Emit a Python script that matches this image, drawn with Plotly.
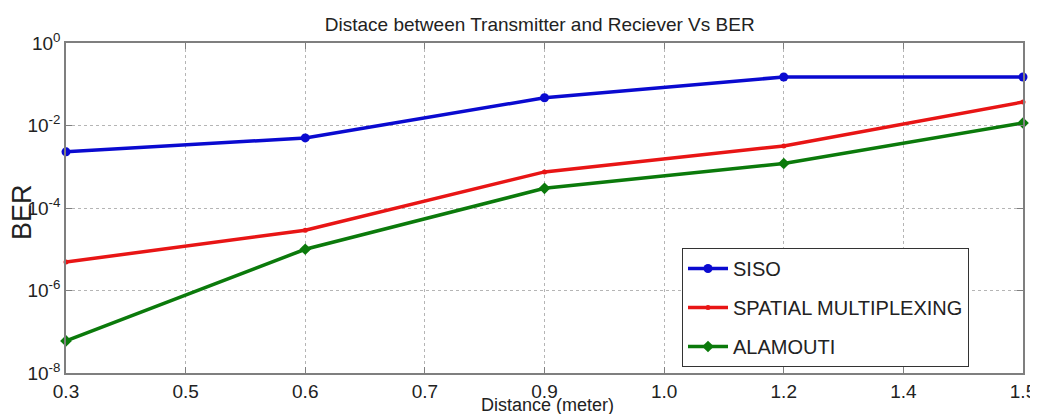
import plotly.graph_objects as go

# ---- data ----
tick_labels = ["0.3", "0.5", "0.6", "0.7", "0.9", "1.0", "1.2", "1.4", "1.5"]
distances = ["0.3", "0.6", "0.9", "1.2", "1.5"]
ber_siso = [2.3e-3, 5.0e-3, 4.7e-2, 1.5e-1, 1.5e-1]
ber_spatial = [4.9e-6, 2.9e-5, 7.5e-4, 3.2e-3, 3.7e-2]
ber_alamouti = [6.0e-8, 1.0e-5, 3.0e-4, 1.2e-3, 1.15e-2]
ytick_vals = [1e-8, 1e-6, 1e-4, 1e-2, 1e0]
ytick_text = ["10<sup>-8</sup>", "10<sup>-6</sup>", "10<sup>-4</sup>", "10<sup>-2</sup>", "10<sup>0</sup>"]

# x positions: ticks are evenly spaced, labels are non-uniform
xpos = [tick_labels.index(d) for d in distances]
tick_pos = list(range(len(tick_labels)))

FONT = "Liberation Sans, Arial, sans-serif"

# the page body adds an 8px offset; figure is sized to compensate
W, H = 1030, 406

fig = go.Figure()
series = [
    ("SISO", ber_siso, "#0a0ad0", "circle", 9),
    ("SPATIAL MULTIPLEXING", ber_spatial, "#e81515", "circle", 5),
    ("ALAMOUTI", ber_alamouti, "#0b7a0b", "diamond", 9),
]
for i, (name, vals, col, sym, ms) in enumerate(series):
    fig.add_trace(go.Scatter(
        x=xpos, y=vals, name=name, mode="lines+markers",
        line=dict(color=col, width=3.5),
        marker=dict(color=col, symbol=sym, size=ms),
        legendgroup=f"g{i}",
        cliponaxis=False,
    ))

axis_common = dict(
    showline=True, linecolor="#7f7f7f", linewidth=1.5, mirror="ticks",
    ticks="inside", ticklen=6, tickcolor="#7f7f7f",
    showgrid=True, gridcolor="#b5b5b5", griddash="dot", gridwidth=1,
    zeroline=False, automargin=False,
    tickfont=dict(family=FONT, size=19, color="#222"),
)

fig.update_xaxes(range=[0, len(tick_labels) - 1], tickvals=tick_pos, ticktext=tick_labels, **axis_common)
fig.update_yaxes(type="log", range=[-8, 0], tickvals=ytick_vals, ticktext=ytick_text, **axis_common)

fig.update_layout(
    width=W, height=H,
    margin=dict(l=58, r=15, t=35, b=41),
    paper_bgcolor="white", plot_bgcolor="white",
    font=dict(family=FONT, color="#222"),
    title=dict(text="Distace between Transmitter and Reciever Vs BER", x=0.495, xref="paper",
               xanchor="center", y=1 - 16 / H, yref="container", yanchor="middle",
               font=dict(family=FONT, size=19, color="#222"), automargin=False),
    legend=dict(x=(682 - 66) / 957, y=(373 - 248) / 330, xanchor="left", yanchor="top",
                bgcolor="white", bordercolor="#333", borderwidth=1,
                font=dict(family=FONT, size=20, color="#222"),
                tracegroupgap=10, itemwidth=40),
    showlegend=True,
)

fig.add_annotation(text="Distance (meter)", xref="paper", yref="paper", x=0.503, y=-(405 - 373) / 330,
                   xanchor="center", yanchor="middle", showarrow=False,
                   font=dict(family=FONT, size=18, color="#222"))
fig.add_annotation(text="BER", xref="paper", yref="paper", x=(22 - 66) / 957, y=0.488,
                   xanchor="center", yanchor="middle", showarrow=False, textangle=-90,
                   font=dict(family=FONT, size=27, color="#222"))

fig.write_html("out.html")
